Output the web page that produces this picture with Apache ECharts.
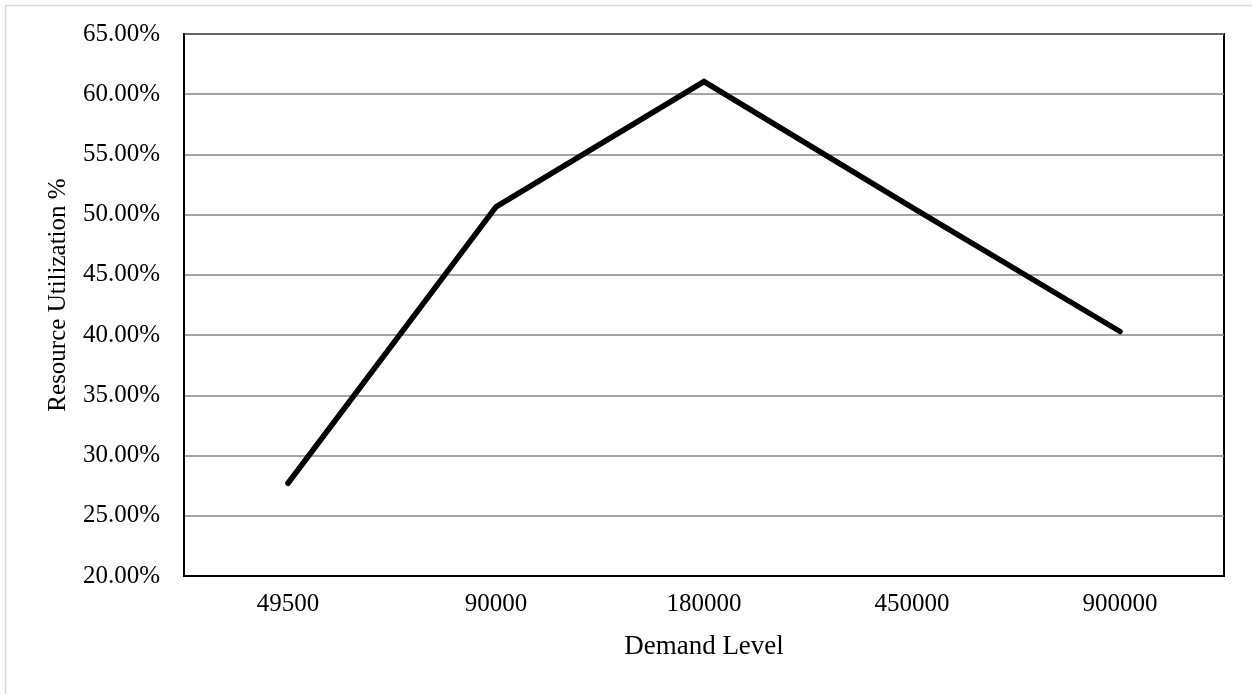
<!DOCTYPE html>
<html>
<head>
<meta charset="utf-8">
<script src="https://cdn.jsdelivr.net/npm/echarts@6/dist/echarts.min.js"></script>
<style>
html,body{margin:0;padding:0;background:#fff;}
#chart{width:1252px;height:694px;}
</style>
</head>
<body>
<div id="chart"></div>
<script>
const categories = ['49500', '90000', '180000', '450000', '900000'];
const utilization = [27.7, 50.65, 61.05, 50.6, 40.3];
const yMin = 20, yMax = 65, yStep = 5;
const xTitle = 'Demand Level';
const yTitle = 'Resource Utilization %';

const chart = echarts.init(document.getElementById('chart'));
const serif = '"Liberation Serif", "Times New Roman", serif';
chart.setOption({
  backgroundColor: '#fff',
  animation: false,
  graphic: [{
    type: 'rect',
    shape: { x: 5.5, y: 5.5, width: 1300, height: 800 },
    style: { fill: 'none', stroke: '#d9d9d9', lineWidth: 1.5 },
    silent: true
  }],
  grid: {
    left: 184, right: 28, top: 34, bottom: 118,
    show: true, borderColor: '#000', borderWidth: 2, backgroundColor: 'transparent'
  },
  xAxis: {
    type: 'category',
    data: categories,
    boundaryGap: true,
    axisLine: { show: true, lineStyle: { color: '#000', width: 2 } },
    axisTick: { show: false },
    axisLabel: { color: '#000', fontFamily: serif, fontSize: 25, margin: 16 },
    name: xTitle,
    nameLocation: 'middle',
    nameGap: 57,
    nameTextStyle: { color: '#000', fontFamily: serif, fontSize: 27 }
  },
  yAxis: {
    type: 'value',
    min: yMin, max: yMax, interval: yStep,
    axisLine: { show: true, lineStyle: { color: '#000', width: 2 } },
    axisTick: { show: false },
    splitLine: { show: true, lineStyle: { color: '#868686', width: 1.5 } },
    axisLabel: {
      color: '#000', fontFamily: serif, fontSize: 25, margin: 24,
      formatter: v => v.toFixed(2) + '%'
    },
    name: yTitle,
    nameLocation: 'middle',
    nameGap: 113,
    nameTextStyle: { color: '#000', fontFamily: serif, fontSize: 25, padding: [0, 0, 0, 20] }
  },
  series: [{
    type: 'line',
    data: utilization,
    symbol: 'none',
    lineStyle: { color: '#000', width: 5.5, cap: 'round', join: 'miter' }
  }]
});
</script>
</body>
</html>
